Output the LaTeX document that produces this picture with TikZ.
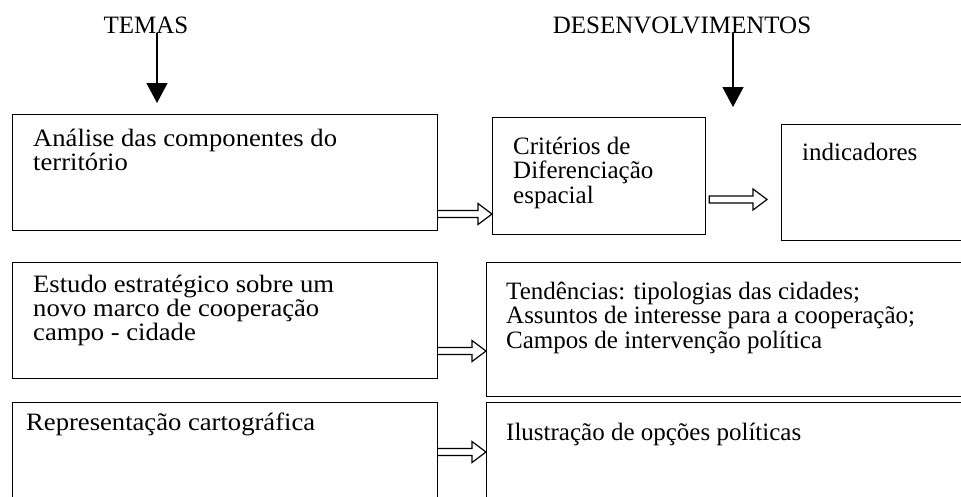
\documentclass[tikz,border=0pt]{standalone}
\usepackage{fontspec}
\setmainfont{Liberation Serif}
\newfontfamily\widefont[FakeStretch=1.065]{Liberation Serif}
\usetikzlibrary{arrows.meta,calc,positioning}

% hollow block arrow between two coordinates (#1: extra path end)
\newcommand{\hollowarrow}[3][]{%
  \draw[flow] ($(#2)+(0,-3.5)$) -- ($(#3)+(-14,-3.5)$) -- ($(#3)+(-14,-10.5)$) -- (#3)
    -- ($(#3)+(-14,10.5)$) -- ($(#3)+(-14,3.5)$) -- ($(#2)+(0,3.5)$) #1;}

\begin{document}
\begin{tikzpicture}[x=1pt, y=-1pt,
  panel/.style={draw, line width=1.2pt, inner sep=0pt, anchor=north west},
  boxtext/.style={font=\fontsize{25}{24.6}\selectfont, align=left, inner sep=0pt},
  widetext/.style={boxtext, font=\widefont\fontsize{25}{24.2}\selectfont},
  head/.style={font=\fontsize{25}{24.5}\selectfont, inner sep=0pt, anchor=base},
  down/.style={-{Triangle[length=20pt,width=21pt]}, line width=1.3pt},
  flow/.style={line width=1.2pt, fill=white, line join=miter}
]
\clip (0,0) rectangle (961,496);

% headings
\node[head] (temas) at (146,33) {TEMAS};
\node[head] (desenv) at (682,33) {DESENVOLVIMENTOS};
\coordinate (temastip) at (157,103);
\coordinate (desenvtip) at (733,107);
\draw[down] (temas.base -| temastip) -- (temastip);
\draw[down] (desenv.base -| desenvtip) -- (desenvtip);

% boxes
\node[panel, minimum width=425pt, minimum height=116pt] (ana) at (12,114) {};
\node[panel, minimum width=213pt, minimum height=117pt] (crit) at (492,117) {};
\node[panel, minimum width=230pt, minimum height=116pt] (ind) at (781,124) {};
\node[panel, minimum width=425pt, minimum height=116pt] (est) at (12,262) {};
\node[panel, minimum width=530pt, minimum height=134pt] (tend) at (486,262) {};
\node[panel, minimum width=425pt, minimum height=130pt] (rep) at (12,402) {};
\node[panel, minimum width=530pt, minimum height=130pt] (ilu) at (486,402) {};

% texts
\node[widetext, below right=14.5pt and 21pt of ana.north west] (anatxt) {Análise das componentes do\\território};
\node[boxtext, below right=19.5pt and 21pt of crit.north west] (crittxt) {Critérios de\\Diferenciação\\espacial};
\node[boxtext, below right=19pt and 21pt of ind.north west] (indtxt) {indicadores};
\node[widetext, below right=13pt and 21pt of est.north west] (esttxt) {Estudo estratégico sobre um\\novo marco de cooperação\\campo - cidade};
\node[boxtext, below right=19.5pt and 20pt of tend.north west] (tendtxt) {Tendências: tipologias das cidades;\\Assuntos de interesse para a cooperação;\\Campos de intervenção política};
\node[widetext, below right=11pt and 14pt of rep.north west] (reptxt) {Representação cartográfica};
\node[boxtext, below right=21pt and 20pt of ilu.north west] (ilutxt) {Ilustração de opções políticas};

% block arrows
\coordinate (a1) at (ana.east |- 0,214);
\coordinate (a2) at (crit.west |- 0,214);
\coordinate (b1) at ($(crit.east |- 0,199.5)+(3,0)$);
\coordinate (b2) at ($(ind.west |- 0,199.5)+(-14,0)$);
\coordinate (c1) at (est.east |- 0,351);
\coordinate (c2) at (tend.west |- 0,351);
\coordinate (d1) at (rep.east |- 0,452);
\coordinate (d2) at (ilu.west |- 0,452);
\hollowarrow{a1}{a2}
\hollowarrow[-- cycle]{b1}{b2}
\hollowarrow{c1}{c2}
\hollowarrow{d1}{d2}
\end{tikzpicture}
\end{document}
